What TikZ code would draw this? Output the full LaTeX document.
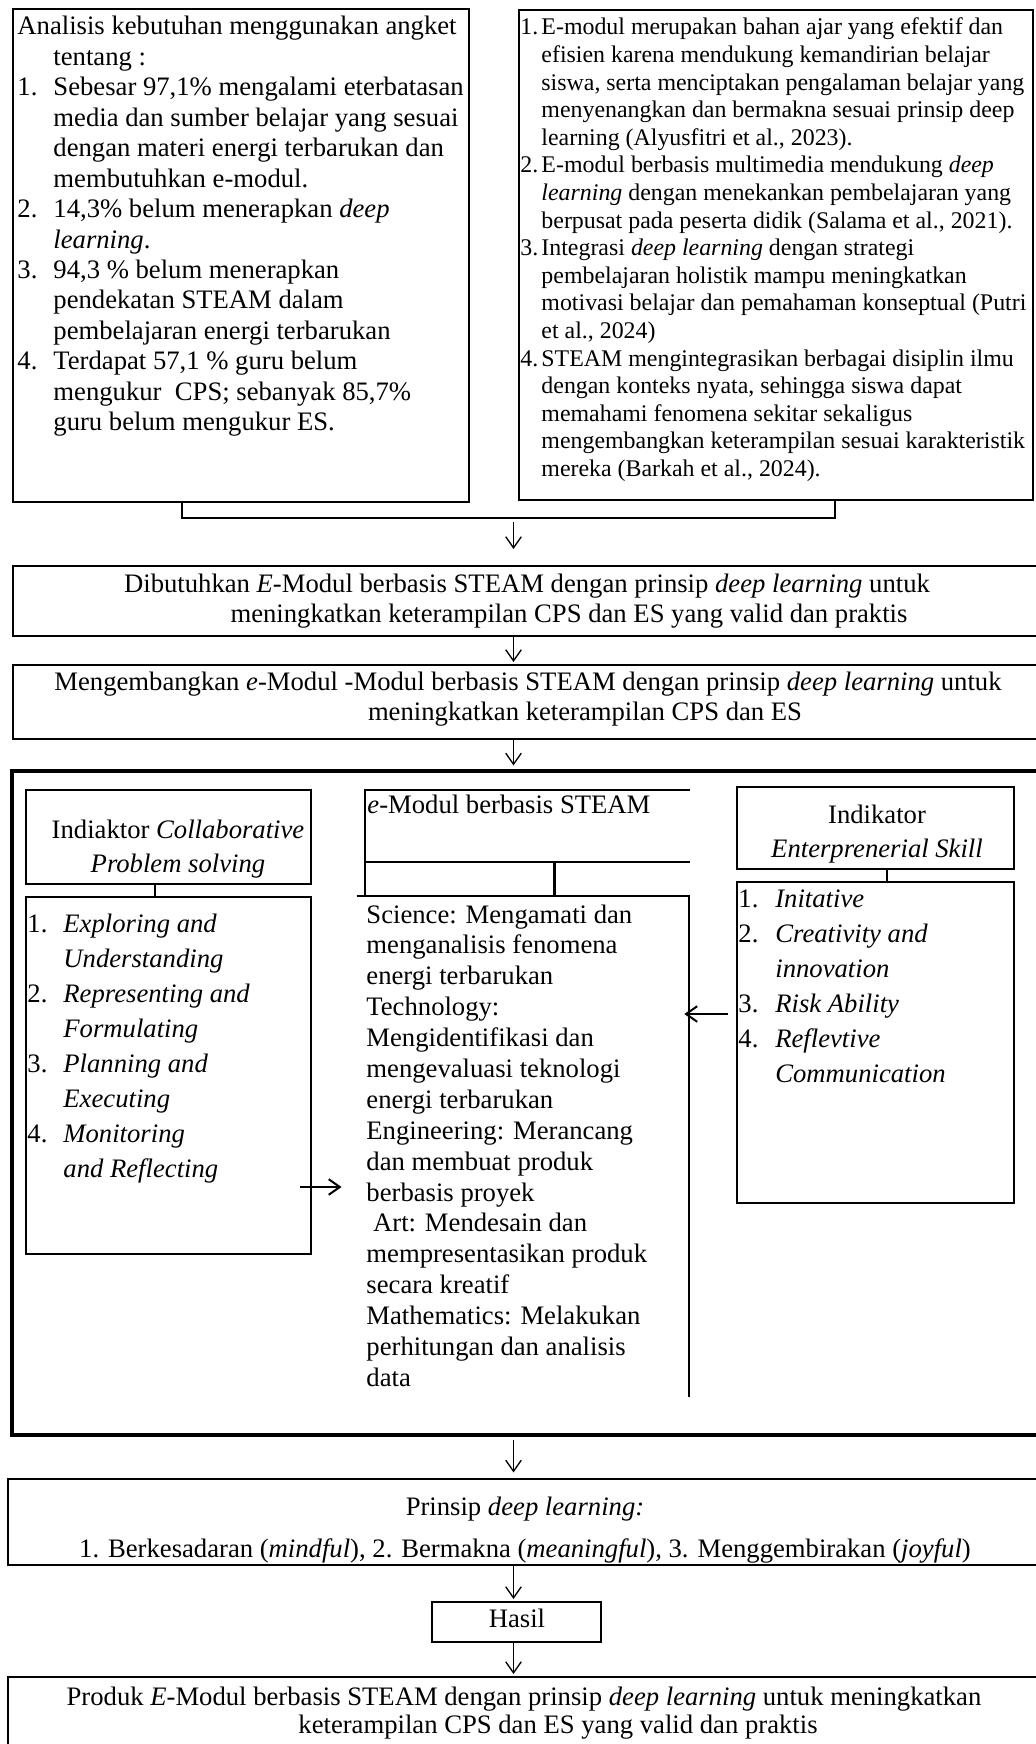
\documentclass[tikz,border=0pt]{standalone}
\usepackage{fontspec}
\setmainfont{Liberation Serif}
\usetikzlibrary{arrows.meta,calc,fit}

\tikzset{
  box/.style={draw, line width=0.9pt, inner sep=0pt},
  txt/.style={inner sep=0pt, font=\fontsize{12}{13.7}\selectfont},
  lnk/.style={line width=1.1pt},
  arr/.style={->, line width=0.6pt},
}

\begin{document}
\begin{tikzpicture}[x=0.45pt, y=-0.45pt, >={Straight Barb[length=5pt,width=7pt]}]
\useasboundingbox (0,0) rectangle (1035,1744);

%Kotak angket
\node[box, fit={(13,9) (469,502)}] (angket) {};
\node[txt, anchor=base west] (angkettxt) at (17,35) {\begin{tabular}[t]{@{}p{16.2pt}@{}l@{}}
\multicolumn{2}{@{}l@{}}{Analisis kebutuhan menggunakan angket}\\
 & tentang :\\
1. & Sebesar 97,1\% mengalami eterbatasan\\
 & media dan sumber belajar yang sesuai\\
 & dengan materi energi terbarukan dan\\
 & membutuhkan e-modul.\\
2. & 14,3\% belum menerapkan \textit{deep}\\
 & \textit{learning}.\\
3. & 94,3 \% belum menerapkan\\
 & pendekatan STEAM dalam\\
 & pembelajaran energi terbarukan\\
4. & Terdapat 57,1 \% guru belum\\
 & mengukur~ CPS; sebanyak 85,7\%\\
 & guru belum mengukur ES.
\end{tabular}};

%Kotak rujukan
\node[box, fit={(519,10) (1033,500)}] (rujukan) {};
\node[txt, font=\fontsize{10.75}{12.42}\selectfont, anchor=base west] (rujukantxt) at (520,35) {\begin{tabular}[t]{@{}p{9.45pt}@{}l@{}}
1. & E-modul merupakan bahan ajar yang efektif dan\\
 & efisien karena mendukung kemandirian belajar\\
 & siswa, serta menciptakan pengalaman belajar yang\\
 & menyenangkan dan bermakna sesuai prinsip deep\\
 & learning (Alyusfitri et al., 2023).\\
2. & E-modul berbasis multimedia mendukung \textit{deep}\\
 & \textit{learning} dengan menekankan pembelajaran yang\\
 & berpusat pada peserta didik (Salama et al., 2021).\\
3. & Integrasi \textit{deep learning} dengan strategi\\
 & pembelajaran holistik mampu meningkatkan\\
 & motivasi belajar dan pemahaman konseptual (Putri\\
 & et al., 2024)\\
4. & STEAM mengintegrasikan berbagai disiplin ilmu\\
 & dengan konteks nyata, sehingga siswa dapat\\
 & memahami fenomena sekitar sekaligus\\
 & mengembangkan keterampilan sesuai karakteristik\\
 & mereka (Barkah et al., 2024).
\end{tabular}};

%Penghubung
\draw[line width=0.9pt] ($(angket.south west)+(170,0)$) -- ++(0,15) -| ($(rujukan.south west)+(317,0)$);
\coordinate (gabung) at (513.5,517);

%Kotak kebutuhan
\node[box, fit={(13,566) (1050,636)}] (butuh) {};
\node[txt, anchor=base] (butuhtxt) at (527,592) {\begin{tabular}[t]{@{}c@{}}
Dibutuhkan \textit{E}-Modul berbasis STEAM dengan prinsip \textit{deep learning} untuk\\
\hspace*{37.8pt}meningkatkan keterampilan CPS dan ES yang valid dan praktis
\end{tabular}};

%Kotak pengembangan
\node[box, fit={(13,665) (1050,739)}] (kembang) {};
\node[txt, anchor=base] (kembangtxt) at (528,690) {\begin{tabular}[t]{@{}c@{}}
Mengembangkan \textit{e}-Modul -Modul berbasis STEAM dengan prinsip \textit{deep learning} untuk\\
\hspace*{51.3pt}meningkatkan keterampilan CPS dan ES
\end{tabular}};

%Kotak rancangan
\node[draw, line width=2.2pt, inner sep=0pt, fit={(12,771) (1050,1435)}] (rancang) {};

%CPS
\node[box, fit={(26,790) (311,884)}] (cpsjudul) {};
\node[txt, font=\fontsize{12}{15.3}\selectfont, anchor=base] (cpsjudultxt) at (178,838) {\begin{tabular}[t]{@{}c@{}}
Indiaktor \textit{Collaborative}\\ \textit{Problem solving}
\end{tabular}};
\node[box, fit={(26,897) (311,1254)}] (cpsisi) {};
\node[txt, font=\fontsize{12}{15.75}\selectfont, anchor=base west] (cpsisitxt) at (27,932) {\begin{tabular}[t]{@{}p{16.2pt}@{}l@{}}
1. & \textit{Exploring and}\\
 & \textit{Understanding}\\
2. & \textit{Representing and}\\
 & \textit{Formulating}\\
3. & \textit{Planning and}\\
 & \textit{Executing}\\
4. & \textit{Monitoring}\\
 & \textit{and Reflecting}
\end{tabular}};
\coordinate (cpstangkai) at ($(cpsjudul.south west)+(130,0)$);
\draw[lnk] (cpstangkai) -- (cpstangkai |- cpsisi.north);

%STEAM
\node[inner sep=0pt, fit={(365,790) (690,862)}] (steamkepala) {};
\node[txt, anchor=base west] (steamkepalatxt) at (367,813) {\textit{e}-Modul berbasis STEAM};
\node[inner sep=0pt, fit={(357,896) (689,1397)}] (steamisi) {};
\draw[line width=0.9pt] (steamkepala.north east) -- (steamkepala.north west) -- (steamkepala.west |- steamisi.north);
\draw[line width=0.9pt] (steamkepala.south west) -- (steamkepala.south east);
\draw[line width=0.9pt] (steamisi.north west) -- (steamisi.north east) -- (steamisi.south east);
\coordinate (steamtangkai) at ($(steamkepala.south west)+(190,0)$);
\draw[lnk] (steamtangkai) -- (steamtangkai |- steamisi.north);
\node[txt, font=\fontsize{12}{13.9}\selectfont, anchor=base west] (steamtxt) at (366,923) {\begin{tabular}[t]{@{}l@{}}
Science: Mengamati dan\\
menganalisis fenomena\\
energi terbarukan\\
Technology:\\
Mengidentifikasi dan\\
mengevaluasi teknologi\\
energi terbarukan\\
Engineering: Merancang\\
dan membuat produk\\
berbasis proyek\\
\ Art: Mendesain dan\\
mempresentasikan produk\\
secara kreatif\\
Mathematics: Melakukan\\
perhitungan dan analisis\\
data
\end{tabular}};

%ES
\node[box, fit={(737,787) (1014,869)}] (esjudul) {};
\node[txt, font=\fontsize{12}{15.3}\selectfont, anchor=base] (esjudultxt) at (877,823) {\begin{tabular}[t]{@{}c@{}}
Indikator\\ \textit{Enterprenerial Skill}
\end{tabular}};
\node[box, fit={(737,882) (1014,1203)}] (esisi) {};
\node[txt, font=\fontsize{12}{15.75}\selectfont, anchor=base west] (esisitxt) at (738,907) {\begin{tabular}[t]{@{}p{16.6pt}@{}l@{}}
1. & \textit{Initative}\\
2. & \textit{Creativity and}\\
 & \textit{innovation}\\
3. & \textit{Risk Ability}\\
4. & \textit{Reflevtive}\\
 & \textit{Communication}
\end{tabular}};
\coordinate (estangkai) at ($(esjudul.south west)+(151,0)$);
\draw[lnk] (estangkai) -- (estangkai |- esisi.north);

%Panah ke STEAM
\coordinate (cpspanah) at (0,1187);
\coordinate (espanah) at (0,1014);
\draw[arr, line width=0.9pt, shorten <=-5.4pt, shorten >=6.75pt] (cpsisi.east |- cpspanah) -- (steamisi.west |- cpspanah);
\draw[arr, line width=0.9pt, shorten <=3.4pt, shorten >=-2.3pt] (esisi.west |- espanah) -- (steamisi.east |- espanah);

%Prinsip
\node[box, fit={(8,1479) (1050,1565)}] (prinsip) {};
\node[txt, font=\fontsize{12}{18.9}\selectfont, anchor=base] (prinsiptxt) at (525,1515) {\begin{tabular}[t]{@{}c@{}}
Prinsip \textit{deep learning:}\\
1. Berkesadaran (\textit{mindful}), 2. Bermakna (\textit{meaningful}), 3. Menggembirakan (\textit{joyful})
\end{tabular}};

%Hasil
\node[box, fit={(432,1602) (601,1642)}] (hasil) {};
\node[txt, anchor=base] (hasiltxt) at (517,1627) {Hasil};

%Produk
\node[box, fit={(8,1677) (1050,1780)}] (produk) {};
\node[txt, font=\fontsize{12}{12.6}\selectfont, anchor=base] (produktxt) at (524,1705) {\begin{tabular}[t]{@{}c@{}}
Produk \textit{E}-Modul berbasis STEAM dengan prinsip \textit{deep learning} untuk meningkatkan\\
\hspace*{30.6pt}keterampilan CPS dan ES yang valid dan praktis
\end{tabular}};

%Panah utama
\draw[arr, shorten <=2.25pt, shorten >=7.2pt] (gabung) -- (butuh.north -| gabung);
\draw[arr, shorten >=0.9pt] (butuh.south -| gabung) -- (kembang.north -| gabung);
\draw[arr, shorten >=1.4pt] (kembang.south -| gabung) -- (rancang.north -| gabung);
\draw[arr, shorten <=1.2pt, shorten >=2.5pt] (rancang.south -| gabung) -- (prinsip.north -| gabung);
\draw[arr, shorten >=0.9pt] (prinsip.south -| gabung) -- (hasil.north -| gabung);
\draw[arr, shorten >=0.9pt] (hasil.south -| gabung) -- (produk.north -| gabung);
\end{tikzpicture}
\end{document}
